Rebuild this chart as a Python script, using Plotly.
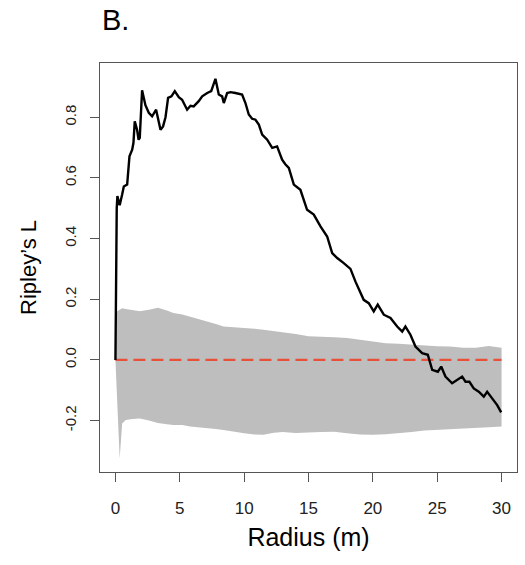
import plotly.graph_objects as go

# Observed Ripley's L (black line)
radius = [0, 0.05, 0.1, 0.15, 0.33, 0.52, 0.65, 0.91, 1.09, 1.30, 1.40, 1.50, 1.68, 1.80, 1.89, 2.07,
          2.33, 2.59, 2.85, 3.16, 3.50, 3.70, 3.89, 4.09, 4.35, 4.61, 4.92, 5.18, 5.57, 5.83,
          6.08, 6.47, 6.74, 7.13, 7.44, 7.77, 8.03, 8.29, 8.42, 8.68, 8.94, 9.32, 9.84, 10.10,
          10.36, 10.62, 10.88, 11.14, 11.40, 11.79, 12.18, 12.56, 12.95, 13.20, 13.47, 13.86,
          14.37, 14.89, 15.41, 15.93, 16.45, 16.84, 17.23, 17.74, 18.26, 18.65, 19.04, 19.29,
          19.68, 20.07, 20.38, 20.85, 21.37, 21.89, 22.28, 22.53, 22.92, 23.31, 23.83, 24.27,
          24.61, 25.05, 25.31, 25.64, 26.16, 26.55, 26.94, 27.20, 27.50, 27.84, 28.23, 28.62,
          28.88, 29.27, 29.66, 29.97]
ripley_l = [0, 0.36, 0.50, 0.54, 0.51, 0.545, 0.572, 0.578, 0.671, 0.693, 0.716, 0.787, 0.759, 0.726, 0.732, 0.889,
            0.840, 0.815, 0.803, 0.825, 0.759, 0.770, 0.800, 0.864, 0.869, 0.886, 0.866, 0.858, 0.825, 0.838,
            0.836, 0.853, 0.869, 0.880, 0.886, 0.927, 0.875, 0.869, 0.847, 0.880, 0.883, 0.880, 0.875, 0.847,
            0.809, 0.795, 0.792, 0.776, 0.743, 0.726, 0.699, 0.704, 0.660, 0.645, 0.633, 0.578,
            0.561, 0.495, 0.479, 0.440, 0.407, 0.352, 0.336, 0.319, 0.300, 0.258, 0.222, 0.198,
            0.187, 0.160, 0.182, 0.149, 0.138, 0.110, 0.093, 0.110, 0.083, 0.044, 0.022, 0.017,
            -0.033, -0.039, -0.022, -0.055, -0.077, -0.066, -0.055, -0.072, -0.072, -0.094, -0.105, -0.121,
            -0.105, -0.127, -0.149, -0.173]

# Simulation envelope (grey band)
env_r = [0, 0.13, 0.33, 0.52, 0.8, 1.3, 1.9, 2.6, 3.3, 4.0, 4.5, 5.2, 5.8, 6.5, 7.1, 7.8, 8.4, 9.2,
         10.0, 10.8, 11.5, 12.3, 13.0, 14.0, 15.0, 16.0, 17.0, 18.0, 19.0, 20.0, 21.0, 22.0, 23.0,
         24.0, 25.0, 26.0, 27.0, 28.0, 29.0, 30.0]
env_hi = [0, 0.16, 0.165, 0.17, 0.168, 0.165, 0.16, 0.165, 0.172, 0.163, 0.155, 0.15, 0.143, 0.135,
          0.127, 0.118, 0.11, 0.108, 0.105, 0.103, 0.099, 0.095, 0.09, 0.085, 0.078, 0.077, 0.075,
          0.072, 0.066, 0.06, 0.055, 0.053, 0.05, 0.048, 0.045, 0.044, 0.04, 0.04, 0.046, 0.04]
env_lo = [0, -0.13, -0.325, -0.21, -0.198, -0.195, -0.193, -0.2, -0.208, -0.212, -0.215, -0.215, -0.22,
          -0.222, -0.226, -0.228, -0.231, -0.236, -0.242, -0.246, -0.247, -0.24, -0.238, -0.241, -0.24,
          -0.238, -0.237, -0.242, -0.246, -0.247, -0.245, -0.242, -0.238, -0.233, -0.23, -0.228,
          -0.226, -0.224, -0.222, -0.22]

# Expected value under CSR
ref_r = [0, 30]
ref_l = [0, 0]

x_ticks = [0, 5, 10, 15, 20, 25, 30]
y_ticks = [-0.2, 0.0, 0.2, 0.4, 0.6, 0.8]
y_tick_text = ["-0.2", "0.0", "0.2", "0.4", "0.6", "0.8"]

FONT = "Liberation Sans, Arial, Helvetica, sans-serif"

fig = go.Figure()
fig.add_trace(go.Scatter(
    x=env_r + env_r[::-1], y=env_hi + env_lo[::-1],
    fill="toself", fillcolor="#BEBEBE", line=dict(width=0, color="#BEBEBE"),
    mode="lines", hoverinfo="skip", showlegend=False))
fig.add_trace(go.Scatter(
    x=ref_r, y=ref_l, mode="lines",
    line=dict(color="#E8503A", width=2.2, dash="12px,6px"), showlegend=False))
fig.add_trace(go.Scatter(
    x=radius, y=ripley_l, mode="lines",
    line=dict(color="black", width=2.4), showlegend=False))

axis_common = dict(
    showgrid=False, zeroline=False, showline=True, mirror=True,
    linecolor="#555555", linewidth=1.3, ticks="outside", tickcolor="#555555",
    tickwidth=1.2, ticklen=9)

fig.update_xaxes(
    range=[-1.2, 31.2], tickvals=x_ticks, ticktext=[str(v) for v in x_ticks],
    tickfont=dict(family=FONT, size=17, color="#222222"), ticklabelstandoff=11,
    title=dict(text="Radius (m)", font=dict(family=FONT, size=25, color="black"), standoff=11),
    **axis_common)
fig.update_yaxes(
    range=[-0.3697, 0.979], tickvals=y_ticks, ticktext=y_tick_text, tickangle=-90,
    tickfont=dict(family=FONT, size=15, color="#222222"), ticklabelstandoff=8,
    title=dict(text="Ripley’s L", font=dict(family=FONT, size=22, color="black"), standoff=19),
    **axis_common)

fig.update_layout(
    width=525, height=565,
    margin=dict(l=100, r=8, t=63, b=93, autoexpand=False),
    plot_bgcolor="white", paper_bgcolor="white",
    showlegend=False,
    annotations=[dict(
        text="B.", xref="paper", yref="paper", x=0.036, y=1.104,
        xanchor="center", yanchor="middle", showarrow=False,
        font=dict(family=FONT, size=29, color="black"))])

fig.write_html("out.html")
